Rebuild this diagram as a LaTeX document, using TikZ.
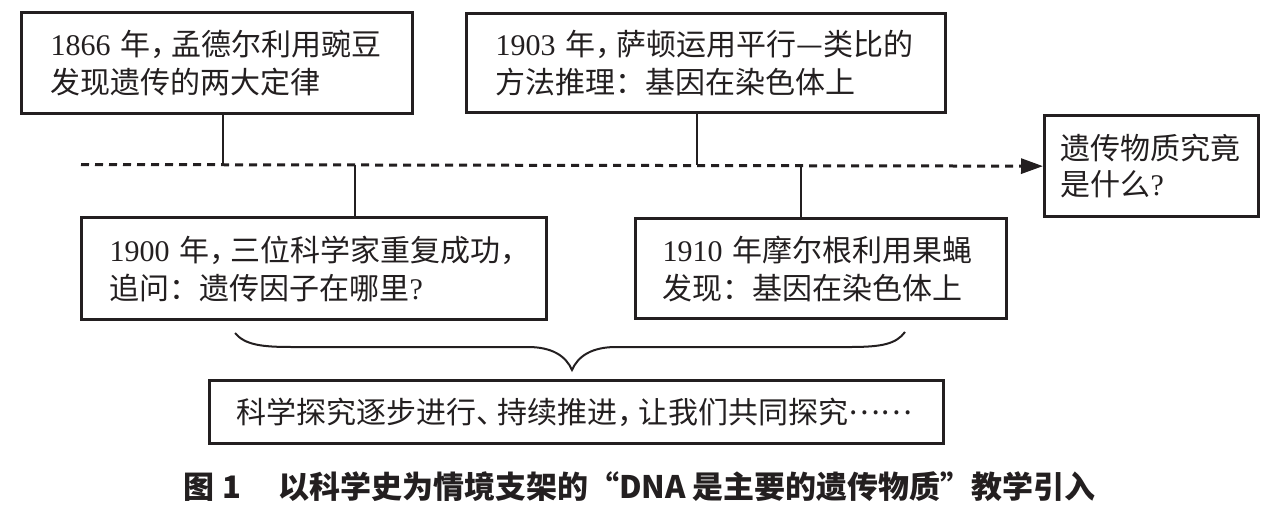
\documentclass[tikz,border=0pt]{standalone}
\usepackage{fontspec}
\setmainfont{Noto Sans CJK SC}
\newfontfamily\lat{Liberation Serif}
\usetikzlibrary{arrows.meta}
\definecolor{ink}{HTML}{231F20}
\newcommand\pc[1]{#1\kern-0.3em\relax}
\newcommand\yr[1]{{\lat #1}~}
\tikzset{
  box/.style={draw=ink, text=ink, line width=3.3pt, align=left, anchor=north west,
    font=\fontsize{30}{38}\selectfont, inner ysep=0pt},
  link/.style={draw=ink, line width=2.7pt},
  timeline/.style={draw=ink, line width=3pt, dash pattern=on 8pt off 6pt,
    -{Triangle[length=22pt,width=15pt]}},
  bracepath/.style={draw=ink, line width=2pt},
  caption/.style={text=ink, font=\fontsize{31}{36}\selectfont\bfseries, inner sep=0pt}
}
\begin{document}
\begin{tikzpicture}[x=1pt,y=-1pt]
\useasboundingbox (0,0) rectangle (1270,512);
% boxes
\node[box, text width=333pt, inner xsep=29pt, minimum height=101pt] (b1866) at (20,11)
  {\yr{1866}年\pc{，}孟德尔利用豌豆\\发现遗传的两大定律};
\node[box, text width=421pt, inner xsep=29pt, minimum height=99pt] (b1903) at (465,12)
  {\yr{1903}年\pc{，}萨顿运用平行—类比的\\方法推理：基因在染色体上};
\node[box, text width=409pt, inner xsep=28pt, minimum height=102pt] (b1900) at (80,216)
  {\yr{1900}年\pc{，}三位科学家重复成功\pc{，}\\追问：遗传因子在哪里{\lat ?}};
\node[box, text width=317pt, inner xsep=27pt, minimum height=100pt] (b1910) at (634,217)
  {\yr{1910}年摩尔根利用果蝇\\发现：基因在染色体上};
\node[box, text width=182pt, inner xsep=16pt, minimum height=101pt,
  font=\fontsize{30}{36}\selectfont] (final) at (1043,114)
  {遗传物质究竟\\是什么{\lat ?}};
\node[box, text width=680pt, inner xsep=27pt, minimum height=63pt] (sum) at (208,379)
  {科学探究逐步进行\pc{、}持续推进\pc{，}让我们共同探究\raisebox{0.3em}{……}};
% timeline
\coordinate (tstart) at (81,164.5);
\coordinate (c1) at (223,164.5);
\coordinate (c2) at (355,164.5);
\coordinate (c3) at (697,164.5);
\coordinate (c4) at (801,164.5);
\draw[timeline] (tstart) -- (final.west);
\draw[link] (b1866.south -| c1) -- (c1);
\draw[link] (c2) -- (b1900.north -| c2);
\draw[link] (b1903.south -| c3) -- (c3);
\draw[link] (c4) -- (b1910.north -| c4);
% brace
\coordinate (bl) at (235,333);
\coordinate (tip) at (572,370);
\coordinate (br) at (905,332);
\draw[bracepath] (bl) .. controls (245,345) and (262,347) .. (292,347)
  -- (528,347) .. controls (552,347) and (566,356) .. (tip)
  .. controls (578,356) and (592,347) .. (616,347)
  -- (850,347) .. controls (882,347) and (896,344) .. (br);
% caption
\node[caption] (cap) at (640,487)
  {图~1\hspace{1.2em}以科学史为情境支架的“DNA~是主要的遗传物质”教学引入};
\end{tikzpicture}
\end{document}
